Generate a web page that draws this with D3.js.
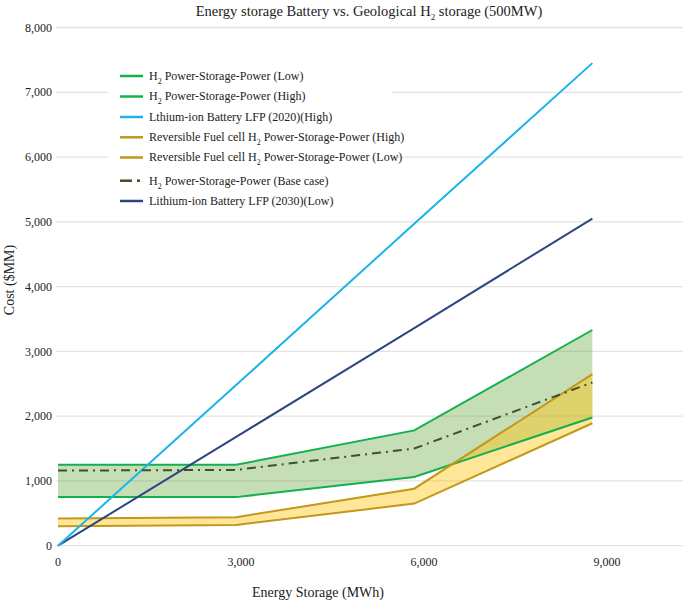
<!DOCTYPE html>
<html><head><meta charset="utf-8">
<script src="https://cdn.jsdelivr.net/npm/d3@7"></script>
<style>body{margin:0;background:#fff}text{font-family:'Liberation Serif','Times New Roman',Tinos,'DejaVu Serif',serif}</style>
</head><body><svg id="c" width="685" height="601"></svg>
<script>
const energyMWh = [0, 2920, 5840, 8760];
const h2High = [1250, 1250, 1780, 3330];
const h2Low = [750, 750, 1060, 1980];
const liIon2020High = [0, 2480, 4970, 7450];
const rfcHigh = [420, 440, 880, 2650];
const rfcLow = [300, 320, 650, 1890];
const h2Base = [1160, 1170, 1500, 2520];
const liIon2030Low = [0, 1680, 3360, 5050];
const xTicks = [0, 3000, 6000, 9000];
const yTicks = [0, 1000, 2000, 3000, 4000, 5000, 6000, 7000, 8000];

const FONT = "'Liberation Serif','Times New Roman',Tinos,'DejaVu Serif',serif";
const svg = d3.select("#c").attr("font-family", FONT);
const x = d3.scaleLinear().domain([0, 9000]).range([58, 607]);
const y = d3.scaleLinear().domain([0, 8000]).range([545.7, 27.5]);
const fmt = d3.format(",");

// gridlines
svg.append("g").selectAll("line").data(yTicks).join("line")
  .attr("x1", 56).attr("x2", 683).attr("y1", d => y(d)).attr("y2", d => y(d))
  .attr("stroke", "#e3e3e3").attr("stroke-width", 1.3);

// y tick labels
svg.append("g").selectAll("text").data(yTicks).join("text")
  .attr("font-family", FONT)
  .attr("x", 52).attr("y", d => y(d)).attr("dy", "0.35em").attr("text-anchor", "end")
  .attr("font-size", 12).attr("fill", "#222").text(d => fmt(d));
// x tick labels
svg.append("g").selectAll("text").data(xTicks).join("text")
  .attr("font-family", FONT)
  .attr("x", d => x(d)).attr("y", 566).attr("text-anchor", "middle")
  .attr("font-size", 12).attr("fill", "#222").text(d => fmt(d));

// axis titles
svg.append("text").attr("font-family", FONT).attr("x", 318).attr("y", 597).attr("text-anchor", "middle")
  .attr("font-size", 14).attr("fill", "#222").text("Energy Storage (MWh)");
svg.append("text").attr("font-family", FONT).attr("transform", "translate(14,280) rotate(-90)").attr("text-anchor", "middle")
  .attr("font-size", 14).attr("fill", "#222").text("Cost ($MM)");

// title
const t = svg.append("text").attr("font-family", FONT).attr("x", 369).attr("y", 16).attr("text-anchor", "middle")
  .attr("font-size", 14.5).attr("fill", "#222");
t.append("tspan").text("Energy storage Battery vs. Geological H");
t.append("tspan").attr("font-size", 9).attr("dy", 4).text("2");
t.append("tspan").attr("dy", -4).text(" storage (500MW)");

const idx = d3.range(energyMWh.length);
const area = (lo, hi) => d3.area().x(i => x(energyMWh[i])).y0(i => y(lo[i])).y1(i => y(hi[i]))(idx);
const line = (v) => d3.line().x(i => x(energyMWh[i])).y(i => y(v[i]))(idx);

svg.append("path").attr("d", area(h2Low, h2High)).attr("fill", "#70ad47").attr("fill-opacity", 0.4);
svg.append("path").attr("d", area(rfcLow, rfcHigh)).attr("fill", "#ffc000").attr("fill-opacity", 0.4);

const green = "#12b04e", gold = "#c4971a", cyan = "#1cb4e8", navy = "#2d4580", olive = "#3d5228";
const series = [
  {v: h2Low, c: green, dash: null},
  {v: h2High, c: green, dash: null},
  {v: rfcHigh, c: gold, dash: null},
  {v: rfcLow, c: gold, dash: null},
  {v: liIon2030Low, c: navy, dash: null},
  {v: liIon2020High, c: cyan, dash: null},
  {v: h2Base, c: olive, dash: "9,5,2,5"}
];
series.forEach(s => {
  svg.append("path").attr("d", line(s.v)).attr("fill", "none").attr("stroke", s.c)
    .attr("stroke-width", 2).attr("stroke-dasharray", s.dash);
});

// legend
svg.append("rect").attr("x", 108).attr("y", 63).attr("width", 284).attr("height", 148).attr("fill", "#fff");
const legend = [
  {pre: "H", sub: "2", post: " Power-Storage-Power (Low)", c: green},
  {pre: "H", sub: "2", post: " Power-Storage-Power (High)", c: green},
  {pre: "Lthium-ion Battery LFP (2020)(High)", sub: "", post: "", c: cyan},
  {pre: "Reversible Fuel cell H", sub: "2", post: " Power-Storage-Power (High)", c: gold},
  {pre: "Reversible Fuel cell H", sub: "2", post: " Power-Storage-Power (Low)", c: gold},
  {pre: "H", sub: "2", post: " Power-Storage-Power (Base case)", c: olive, dash: true},
  {pre: "Lithium-ion Battery LFP (2030)(Low)", sub: "", post: "", c: navy}
];
const rowY = [76, 96.5, 117, 137.3, 157.5, 180.7, 201];
legend.forEach((d, i) => {
  const g = svg.append("g").attr("transform", `translate(0,${rowY[i]})`);
  if (d.dash) {
    g.append("line").attr("x1", 120).attr("x2", 132).attr("stroke", d.c).attr("stroke-width", 2.5);
    g.append("line").attr("x1", 137).attr("x2", 140).attr("stroke", d.c).attr("stroke-width", 2.5);
  } else {
    g.append("line").attr("x1", 120).attr("x2", 143).attr("stroke", d.c).attr("stroke-width", 2.5);
  }
  const tx = g.append("text").attr("font-family", FONT).attr("x", 149).attr("y", 0).attr("dy", "0.32em")
    .attr("font-size", 12).attr("fill", "#222");
  tx.append("tspan").text(d.pre);
  if (d.sub) {
    tx.append("tspan").attr("font-size", 8).attr("dy", 4).text(d.sub);
    tx.append("tspan").attr("dy", -4).text(d.post);
  }
});
</script></body></html>
